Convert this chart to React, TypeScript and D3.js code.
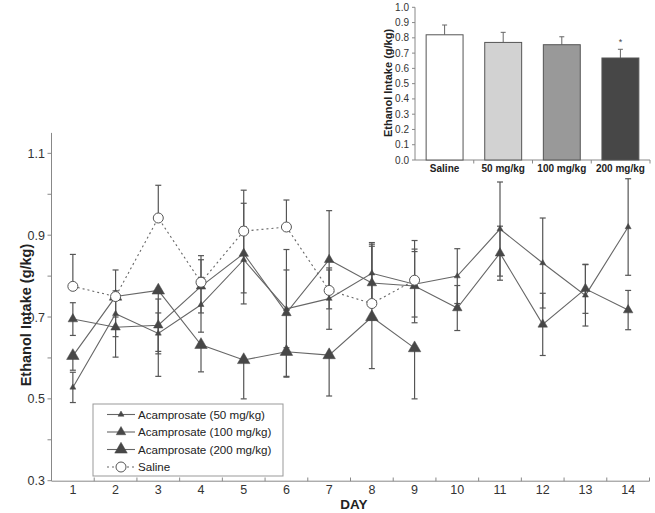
import React from "react";
import * as d3 from "d3";

const days = [1, 2, 3, 4, 5, 6, 7, 8, 9, 10, 11, 12, 13, 14];
const saline = [0.775, 0.75, 0.942, 0.785, 0.91, 0.92, 0.765, 0.733, 0.79];
const salineErr = [0.078, 0.065, 0.08, 0.065, 0.1, 0.066, 0.05, 0.145, 0.097];
const ac50 = [0.528, 0.708, 0.66, 0.73, 0.84, 0.72, 0.745, 0.807, 0.78, 0.8, 0.915, 0.832, 0.753, 0.92];
const ac50Err = [0.037, 0.056, 0.05, 0.067, 0.081, 0.095, 0.075, 0.075, 0.08, 0.067, 0.115, 0.11, 0.075, 0.118];
const ac100 = [0.695, 0.675, 0.68, 0.775, 0.855, 0.71, 0.84, 0.783, 0.776, 0.722, 0.856, 0.682, 0.769, 0.717];
const ac100Err = [0.04, 0.073, 0.064, 0.065, 0.123, 0.155, 0.12, 0.09, 0.09, 0.055, 0.066, 0.076, 0.06, 0.048];
const ac200 = [0.605, 0.75, 0.765, 0.632, 0.595, 0.615, 0.607, 0.7, 0.624];
const ac200Err = [0.035, 0.05, 0.21, 0.066, 0.095, 0.062, 0.1, 0.126, 0.124];

const yTicks = [0.3, 0.4, 0.5, 0.6, 0.7, 0.8, 0.9, 1.0, 1.1];
const yLabels = [0.3, 0.5, 0.7, 0.9, 1.1];

const legendLabels = ["Acamprosate (50 mg/kg)", "Acamprosate (100 mg/kg)", "Acamprosate (200 mg/kg)", "Saline"];

const insetGroups = ["Saline", "50 mg/kg", "100 mg/kg", "200 mg/kg"];
const insetMeans = [0.82, 0.77, 0.755, 0.668];
const insetErr = [0.064, 0.066, 0.052, 0.057];
const insetColors = ["#ffffff", "#d2d2d2", "#999999", "#474747"];
const insetTicks = [0, 0.1, 0.2, 0.3, 0.4, 0.5, 0.6, 0.7, 0.8, 0.9, 1.0];

const FONT = "Arial, 'Liberation Sans', sans-serif";

function triArea(w: number) {
  return (Math.sqrt(3) / 4) * w * w;
}

export default function App() {
  const W = 655, H = 513;
  const x = d3.scaleLinear().domain([0.5, 14.5]).range([51.5, 649.5]);
  const y = d3.scaleLinear().domain([0.3, 1.15]).range([480.7, 132.9]);

  const lineGen = d3.line<[number, number]>().x((d) => x(d[0])).y((d) => y(d[1]));
  const pts = (vals: number[]) => vals.map((v, i) => [days[i], v] as [number, number]);

  const lineColor = "#666";
  const markColor = "#474747";
  const errColor = "#555";

  const series = [
    { vals: ac50, err: ac50Err, size: 6, dir: "both" },
    { vals: ac100, err: ac100Err, size: 9.5, dir: "both" },
    { vals: ac200, err: ac200Err, size: 12.5, dir: "down" },
  ];

  const errBar = (d: number, v: number, e: number, dir: string, key: string, color = errColor) => {
    const cx = x(d);
    const top = dir === "down" ? v : v + e;
    const bot = dir === "up" ? v : v - e;
    const cw = 3;
    return (
      <g key={key} stroke={color} strokeWidth={1.2}>
        <line x1={cx} x2={cx} y1={y(top)} y2={y(bot)} />
        {dir !== "down" && <line x1={cx - cw} x2={cx + cw} y1={y(top)} y2={y(top)} />}
        {dir !== "up" && <line x1={cx - cw} x2={cx + cw} y1={y(bot)} y2={y(bot)} />}
      </g>
    );
  };

  const ix = d3.scaleBand().domain(insetGroups).range([415, 650]).paddingInner(0.37).paddingOuter(0.19);
  const iy = d3.scaleLinear().domain([0, 1]).range([160, 7.3]);

  return (
    <svg width={W} height={H} style={{ position: "absolute", left: 0, top: 0, background: "#fff" }} fontFamily={FONT}>
      <rect x={0} y={0} width={W} height={H} fill="#fff" />

      <line x1={51.5} x2={51.5} y1={132.9} y2={481} stroke="#888" strokeWidth={1} />
      <line x1={51.5} x2={649.5} y1={481.2} y2={481.2} stroke="#888" strokeWidth={1} />
      {yTicks.map((t) => (
        <line key={"yt" + t} x1={47.5} x2={51.5} y1={y(t)} y2={y(t)} stroke="#888" />
      ))}
      {yLabels.map((t) => (
        <text key={"yl" + t} x={45} y={y(t) + 4.5} textAnchor="end" fontSize={12.5} fill="#333">
          {t.toFixed(1)}
        </text>
      ))}
      {d3.range(1.5, 15, 1).map((t) => (
        <line key={"xt" + t} x1={x(t)} x2={x(t)} y1={481.2} y2={477.5} stroke="#888" />
      ))}
      {days.map((d) => (
        <text key={"xl" + d} x={x(d)} y={494} textAnchor="middle" fontSize={12.5} fill="#333">
          {d}
        </text>
      ))}
      <text x={354} y={509} textAnchor="middle" fontSize={13.5} fontWeight="bold" fill="#222">DAY</text>
      <text transform={`translate(31,315) rotate(-90)`} textAnchor="middle" fontSize={14.5} fontWeight="bold" fill="#222">
        Ethanol Intake (g/kg)
      </text>

      {saline.map((v, i) => errBar(days[i], v, salineErr[i], "up", "se" + i))}
      {series.map((s, si) => s.vals.map((v, i) => errBar(days[i], v, s.err[i], s.dir, `e${si}-${i}`)))}

      <path d={lineGen(pts(saline)) || ""} fill="none" stroke={lineColor} strokeWidth={1.1} strokeDasharray="2,3" />
      {series.map((s, si) => (
        <path key={"l" + si} d={lineGen(pts(s.vals)) || ""} fill="none" stroke={lineColor} strokeWidth={1.1} />
      ))}

      {series.map((s, si) =>
        s.vals.map((v, i) => (
          <path
            key={`m${si}-${i}`}
            d={d3.symbol(d3.symbolTriangle, triArea(s.size))() || ""}
            transform={`translate(${x(days[i])},${y(v)})`}
            fill={markColor}
            stroke={markColor}
            strokeWidth={0.5}
          />
        ))
      )}
      {saline.map((v, i) => (
        <circle key={"c" + i} cx={x(days[i])} cy={y(v)} r={5} fill="#fff" stroke="#555" strokeWidth={1} />
      ))}

      <rect x={93} y={404} width={190} height={72} fill="#fff" stroke="#999" strokeWidth={1} />
      {legendLabels.map((lab, i) => {
        const ly = 414.5 + i * 17.5;
        return (
          <g key={"lg" + i}>
            <line x1={107} x2={135} y1={ly} y2={ly} stroke={lineColor} strokeWidth={1.1} strokeDasharray={i === 3 ? "2,3" : undefined} />
            {i < 3 ? (
              <path
                d={d3.symbol(d3.symbolTriangle, triArea(series[i].size))() || ""}
                transform={`translate(121,${ly})`}
                fill={markColor}
                stroke={markColor}
                strokeWidth={0.5}
              />
            ) : (
              <circle cx={121} cy={ly} r={5} fill="#fff" stroke="#555" strokeWidth={1} />
            )}
            <text x={138} y={ly + 4.3} fontSize={11.6} fill="#222">
              {lab}
            </text>
          </g>
        );
      })}

      <g>
        <line x1={415} x2={415} y1={7.3} y2={160} stroke="#888" />
        <line x1={415} x2={650} y1={160} y2={160} stroke="#888" />
        {insetTicks.map((t) => (
          <g key={"it" + t}>
            <line x1={412} x2={415} y1={iy(t)} y2={iy(t)} stroke="#888" />
            <text x={409} y={iy(t) + 3.5} textAnchor="end" fontSize={10} fill="#333">
              {t.toFixed(1)}
            </text>
          </g>
        ))}
        {insetGroups.map((g, i) => {
          const right = 415 + ((i + 1) * 235) / 4;
          return <line key={"is" + i} x1={right} x2={right} y1={160} y2={163.5} stroke="#888" />;
        })}
        {insetGroups.map((g, i) => {
          const bx = ix(g) as number;
          const bw = ix.bandwidth();
          const cx = bx + bw / 2;
          return (
            <g key={"ib" + i}>
              <line x1={cx} x2={cx} y1={iy(insetMeans[i])} y2={iy(insetMeans[i] + insetErr[i])} stroke="#666" />
              <line x1={cx - 2.5} x2={cx + 2.5} y1={iy(insetMeans[i] + insetErr[i])} y2={iy(insetMeans[i] + insetErr[i])} stroke="#666" />
              <rect x={bx} y={iy(insetMeans[i])} width={bw} height={iy(0) - iy(insetMeans[i])} fill={insetColors[i]} stroke="#555" strokeWidth={1} />
              <text x={cx} y={172} textAnchor="middle" fontSize={10} fontWeight="bold" fill="#222">
                {g}
              </text>
            </g>
          );
        })}
        <text x={(ix("200 mg/kg") as number) + ix.bandwidth() / 2} y={iy(0.755)} textAnchor="middle" fontSize={9} fill="#444">
          *
        </text>
        <text transform={`translate(392,83) rotate(-90)`} textAnchor="middle" fontSize={11} fontWeight="bold" fill="#222">
          Ethanol Intake (g/kg)
        </text>
      </g>
    </svg>
  );
}
